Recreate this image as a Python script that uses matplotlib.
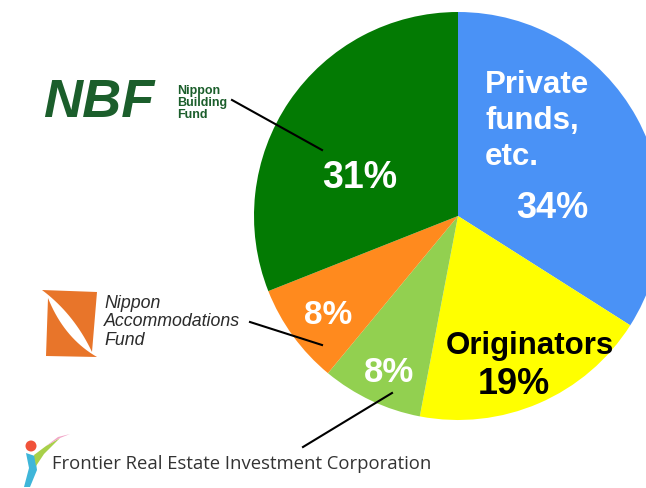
import matplotlib
matplotlib.use("Agg")
import numpy as np
import matplotlib.pyplot as plt
from matplotlib.patches import Polygon, Circle

# données du graphique
labels = ["Private funds, etc.", "Originators", "Frontier", "NAF", "NBF"]
shares = [34, 19, 8, 8, 31]
colors = ["#4a92f6", "#ffff00", "#92d050", "#ff8a1e", "#037a03"]
pct_text = ["34%", "19%", "8%", "8%", "31%"]

W, H = 646, 488


def Y(y):
    # coordonnées pixel (origine en haut) -> coordonnées axes
    return H - y


def bezier(p0, c, p1, n=20):
    t = np.linspace(0, 1, n)[:, None]
    p0, c, p1 = np.array(p0), np.array(c), np.array(p1)
    pts = (1 - t) ** 2 * p0 + 2 * (1 - t) * t * c + t ** 2 * p1
    pts[:, 1] = H - pts[:, 1]
    return pts


def crescent(tip0, tip1, corner, c_in, color):
    # bord extérieur presque droit avec un coin, bord intérieur courbe
    outer = np.vstack([bezier(tip0, corner, corner, 8),
                       bezier(corner, corner, tip1, 8)])
    inner = bezier(tip1, c_in, tip0)
    ax.add_patch(Polygon(np.vstack([outer, inner]), closed=True,
                         color=color, lw=0))


fig = plt.figure(figsize=(W / 100, H / 100), dpi=100)
ax = fig.add_axes([0, 0, 1, 1])

ax.pie(shares, colors=colors, startangle=90, counterclock=False,
       center=(458, Y(216)), radius=204,
       wedgeprops=dict(linewidth=0))
ax.set_xlim(0, W)
ax.set_ylim(0, H)
ax.set_aspect("equal")
ax.axis("off")

font = "Liberation Sans"

# étiquettes des parts
ax.text(485, Y(121), "Private\nfunds,\netc.", color="white", fontsize=22.5,
        fontweight="bold", family=font, ha="left", va="center", linespacing=1.27)
ax.text(552, Y(208), pct_text[0], color="white", fontsize=26,
        fontweight="bold", family=font, ha="center", va="center")
ax.text(530, Y(346), "Originators", color="black", fontsize=22.5,
        fontweight="bold", family=font, ha="center", va="center")
ax.text(514, Y(385), pct_text[1], color="black", fontsize=26,
        fontweight="bold", family=font, ha="center", va="center")
ax.text(389, Y(372), pct_text[2], color="white", fontsize=25,
        fontweight="bold", family=font, ha="center", va="center")
ax.text(328, Y(316), pct_text[3], color="white", fontsize=24,
        fontweight="bold", family=font, ha="center", va="center")
ax.text(360, Y(178), pct_text[4], color="white", fontsize=27,
        fontweight="bold", family=font, ha="center", va="center")

# traits de rappel
for (x0, y0), (x1, y1) in [((232, 100), (322, 150)),
                           ((250, 322), (322, 345)),
                           ((303, 447), (392, 393))]:
    ax.plot([x0, x1], [Y(y0), Y(y1)], color="black", lw=1.5)

# logo NBF
ax.text(43, Y(103), "NBF", color="#1b5e2b", fontsize=39, fontweight="bold",
        style="italic", family=font, ha="left", va="center")
ax.text(177, Y(103), "Nippon\nBuilding\nFund", color="#1b5e2b", fontsize=9,
        fontweight="bold", family=font, ha="left", va="center", linespacing=1.05)

# logo Nippon Accommodations Fund
orange = "#e8752a"
crescent((42, 290), (92, 352), (97, 292), (74, 314), orange)
crescent((48, 298), (97, 357), (46, 356), (64, 338), orange)
ax.text(104, Y(322), "Nippon\nAccommodations\nFund", color="#2b2b2b",
        fontsize=12.8, style="italic", family=font, ha="left", va="center",
        linespacing=1.15)

# logo Frontier
ax.add_patch(Circle((31, Y(446)), 5.5, color="#f0523a", lw=0))
ax.add_patch(Polygon([(26, Y(453)), (35, Y(456)), (37, Y(470)), (30, Y(487)),
                      (24, Y(487)), (29, Y(468))],
                     closed=True, color="#3fb6d9", lw=0))
ax.add_patch(Polygon([(34, Y(455)), (46, Y(446)), (60, Y(438)), (44, Y(454)),
                      (36, Y(466))],
                     closed=True, color="#a8d04a", lw=0))
ax.add_patch(Polygon([(46, Y(446)), (58, Y(437)), (70, Y(434)), (60, Y(438))],
                     closed=True, color="#f2a6c8", lw=0))
ax.text(52, Y(464), "Frontier Real Estate Investment Corporation",
        color="#333333", fontsize=13.3, family="Open Sans", ha="left",
        va="center")

fig.savefig("out.png", dpi=100)
